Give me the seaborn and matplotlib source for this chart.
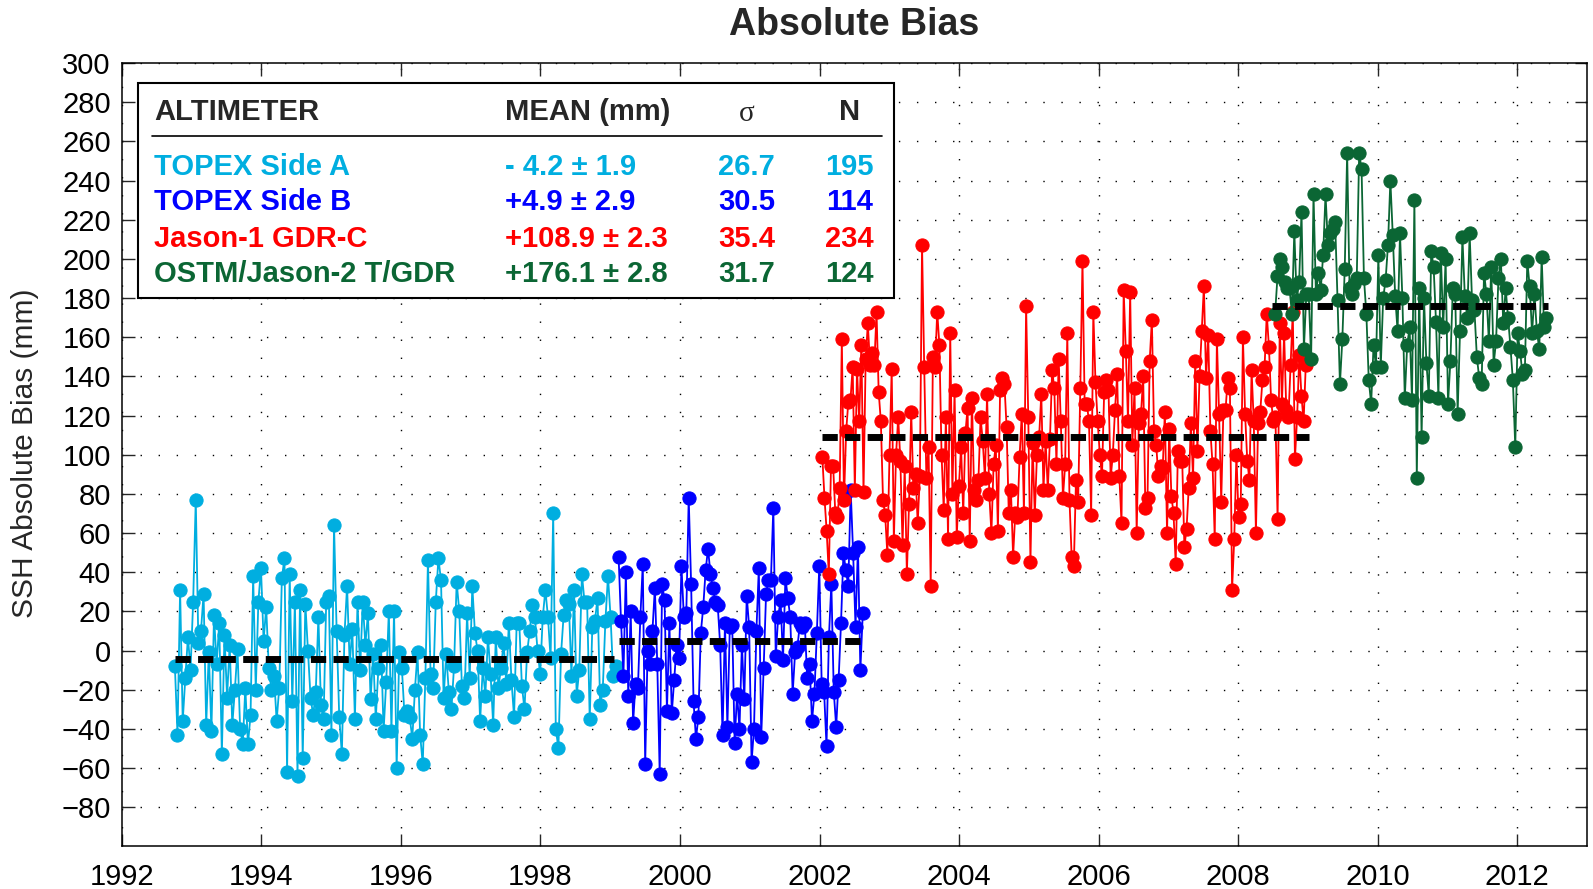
import numpy as np
import pandas as pd
import matplotlib
matplotlib.use("Agg")
import matplotlib.pyplot as plt
from matplotlib.patches import Rectangle
import seaborn as sns

# ---------------- data ----------------
series_names = ["TOPEX Side A", "TOPEX Side B", "Jason-1 GDR-C", "OSTM/Jason-2 T/GDR"]

topex_a = [-8, -43, 31, -36, -14, 7, -10, 25, 77, 4, 10, 29, -38, -1, -41, 18, -7, 14, -53, 8,
           -24, 3, -38, -20, 1, -40, -48, -19, -48, -33, 38, -20, 25, 42, 5, 22, -9, -20, -13, -36,
           -19, 37, 47, -62, 39, -26, 25, -64, 31, -55, 24, 0, -24, -33, -21, 17, -28, -35, 25, 28,
           -43, 64, 10, -34, -53, 8, 33, -7, 11, -35, 25, -10, 25, 3, 19, -25, -2, -35, -9, 3,
           -41, -16, 20,
           -41, 20, -60, -1, -9, -33, -31, -34, -45, -20, -1, -43, -58, -14, 46, -12, -19, 25, 47, 36,
           -24, -2, -21, -30, -8, 35, 20, -18, -24, 19, -14, 33, 9, 0, -36, -9, -23, 7, -12, -38,
           7, -19, -9, 4, -17, 14, -15, -34, 14, 14, -18, -30, -1, 10, 23, 17, 0, -12, 17, 31,
           17, -4, 70, -40, -50, -2, 18, 26, 24, -13, 31, -23, -10, 39, 25, 25, -35, 12, 15, 27,
           -28, -20, 15, 38, 17, -13, -8]

topex_b = [48, 15, -13, 40, -23, 20, -37, -17, -19, 17, 44, -58, 0, -7, 10, 32, -7, -63, 34, 26,
           -31, 14, -32, -15, 3, -4, 43, 17, 19, 78, 34, -26, -45, -34, 9, 22, 41, 52, 39, 32,
           25, 23, 3, -43, 14, -39, 12, 13, -47, -22, -40, 3, -25, 28, 12, -57, -40, 10, 42, -44,
           -9, 29, 36, 36, 73, -3, 17, 26, -5, 37, 27, 17, -22, -1, 2, 14, 12, 14, -14, -7,
           -36, -22, 9, 43, -17, -21, -49, 7, 34, -21, -39, -15, 14, 50, 41, 33, 82, 50, 12, 53,
           -10, 19]

jason1 = [99, 78, 61, 39, 94, 94, 70, 68, 83, 159, 77, 112, 127, 128, 145, 82, 144, 117, 156, 81,
          149, 167, 146, 152, 146, 173, 132, 117, 77, 69, 49, 100, 144, 56, 100, 119, 97, 54, 94, 39,
          75, 122, 83, 90, 65, 89, 207, 145, 88, 104, 33, 150, 145, 173, 156, 100, 72, 119, 57, 162,
          80, 133, 58, 84, 104, 70, 111, 124, 56, 129, 82, 77, 87, 119, 107, 88, 131, 80, 60, 95,
          105, 61, 133, 139, 136, 114, 70, 82, 48, 70, 68, 99, 121, 70, 176, 119, 45, 106, 69, 100,
          109, 131, 82, 107, 82, 108, 143, 134, 95, 149, 117, 78, 95, 162,
          77, 48, 43, 87, 76, 134, 199, 126, 126, 117, 69, 173, 137, 117, 100, 89, 132, 138, 133, 88,
          100, 123, 141, 89, 65, 184, 153, 117, 183, 105, 134, 60, 116, 121, 140, 73, 78, 148, 169, 112,
          105, 89, 94, 93, 122, 60, 113, 79, 70, 44, 102, 97, 97, 53, 62, 83, 116, 88, 148, 102,
          140, 163, 186, 139, 161, 112, 95, 57, 159, 121, 76, 123, 123, 139, 134, 31, 57, 100, 68, 75,
          160, 121, 97, 87, 143, 117, 60, 116, 122, 138, 145, 172, 155, 128, 117, 119, 67, 167, 126, 162,
          123, 119, 146, 173, 98, 119, 151, 130, 117, 146]

jason2 = [172, 191, 200, 196, 188, 185, 185, 172, 214, 179, 188, 224, 154, 182, 182, 149, 233, 182, 193, 184,
          202, 233, 207, 213, 215, 219, 179, 136, 159, 195, 254, 185, 182, 187, 190, 254, 246, 190, 172, 138,
          126, 156, 145, 202, 145, 180, 189, 207, 240, 212, 181, 163, 213, 180, 129, 156, 165, 128, 230, 88,
          185, 109, 180, 147, 130, 204, 196, 168, 129, 203, 165, 200, 126, 148, 185, 182, 121, 163, 211, 181,
          170, 213, 179, 174, 150, 139, 136, 193, 182, 158, 196, 146, 158, 190, 200, 167, 185, 170, 155, 138,
          104, 162, 153, 141, 143, 199, 186, 162, 182, 163, 154, 201, 165, 170]

# first / last epoch (decimal year) of each mission's record
start_years = [1992.76, 1999.12, 2002.04, 2008.53]
end_years = [1999.08, 2002.62, 2008.97, 2012.42]

# extent of each mean line (decimal years)
mean_start = [1992.76, 1999.13, 2002.04, 2008.49]
mean_end = [1999.06, 2002.60, 2009.02, 2012.44]

means = [-4.2, 4.9, 108.9, 176.1]
mean_labels = ["- 4.2 \u00b1 1.9", "+4.9 \u00b1 2.9", "+108.9 \u00b1 2.3", "+176.1 \u00b1 2.8"]
sigma_labels = ["26.7", "30.5", "35.4", "31.7"]
n_labels = ["195", "114", "234", "124"]

colors = ["#00AEE0", "#0000FF", "#FF0000", "#0B6634"]
x_ticks = list(range(1992, 2013, 2))
y_ticks = list(range(-80, 301, 20))

# ---------------- frame ----------------
all_values = [topex_a, topex_b, jason1, jason2]
frames = []
for name, vals, t0, t1 in zip(series_names, all_values, start_years, end_years):
    frames.append(pd.DataFrame({
        "series": name,
        "time": np.linspace(t0, t1, len(vals)),
        "bias": vals,
    }))
df = pd.concat(frames, ignore_index=True)

# ---------------- style ----------------
sns.set_style("ticks")
plt.rcParams["font.family"] = ["Liberation Sans", "DejaVu Sans"]
plt.rcParams["axes.unicode_minus"] = True

fig = plt.figure(figsize=(15.93, 8.89), dpi=100)
ax = fig.add_axes([0.0765, 0.048, 0.9197, 0.8811])

sns.lineplot(data=df, x="time", y="bias", hue="series", palette=colors,
             hue_order=series_names, marker="o", markersize=9.5, linewidth=1.3,
             estimator=None, sort=False, legend=False, ax=ax, zorder=3)
for line, c in zip(ax.lines, colors):
    line.set_markeredgecolor(c)
    line.set_markerfacecolor(c)

for s, e, m in zip(mean_start, mean_end, means):
    ax.plot([s, e], [m, m], color="black", lw=5, dashes=(2.2, 1.05),
            dash_capstyle="butt", zorder=5)

ax.set_xlim(1992, 2013)
ax.set_ylim(-100, 300)
ax.set_xticks(x_ticks)
ax.set_yticks(y_ticks)
ax.set_xlabel("")
ax.set_ylabel("")
ax.grid(True, color="black", linestyle=(0, (1, 12)), linewidth=1.0)
ax.tick_params(direction="in", length=9, width=1, top=True, right=True,
               labelsize=21, pad=8, labelcolor="black")
ax.tick_params(axis="x", pad=12)
for sp in ax.spines.values():
    sp.set_linewidth(1.1)
    sp.set_color("black")

ax.set_title("Absolute Bias", fontsize=27, fontweight="bold", pad=20)
fig.text(25 / 1568, 0.490, "SSH Absolute Bias (mm)", rotation=90,
         ha="center", va="center", fontsize=21.5)

# ---------------- statistics table ----------------
box = Rectangle((0.0111, 0.700), 0.527 - 0.0111, 0.974 - 0.700, transform=ax.transAxes,
                facecolor="white", edgecolor="black", lw=1.5, zorder=6)
ax.add_patch(box)

col_name, col_mean, col_sig, col_n = 0.0222, 0.2614, 0.4265, 0.4965
head_y = 0.9378
row_y = [0.8678, 0.8224, 0.7757, 0.7303]

ax.text(col_name, head_y, "ALTIMETER", transform=ax.transAxes, fontsize=21,
        fontweight="bold", va="center", ha="left", zorder=7)
ax.text(col_mean, head_y, "MEAN (mm)", transform=ax.transAxes, fontsize=21,
        fontweight="bold", va="center", ha="left", zorder=7)
ax.text(col_sig, head_y - 0.003, "\u03c3", transform=ax.transAxes, fontsize=21,
        family=["Liberation Serif", "DejaVu Serif"], va="center", ha="center", zorder=7)
ax.text(col_n, head_y, "N", transform=ax.transAxes, fontsize=21,
        fontweight="bold", va="center", ha="center", zorder=7)
ax.plot([0.0208, 0.5187], [0.9066, 0.9066], transform=ax.transAxes,
        color="black", lw=1.2, zorder=7)

for y, name, ml, sl, nl, c in zip(row_y, series_names, mean_labels, sigma_labels, n_labels, colors):
    ax.text(col_name, y, name, transform=ax.transAxes, fontsize=21, fontweight="bold",
            color=c, va="center", ha="left", zorder=7)
    ax.text(col_mean, y, ml, transform=ax.transAxes, fontsize=21, fontweight="bold",
            color=c, va="center", ha="left", zorder=7)
    ax.text(col_sig, y, sl, transform=ax.transAxes, fontsize=21, fontweight="bold",
            color=c, va="center", ha="center", zorder=7)
    ax.text(col_n, y, nl, transform=ax.transAxes, fontsize=21, fontweight="bold",
            color=c, va="center", ha="center", zorder=7)

fig.savefig("out.png", dpi=100)
